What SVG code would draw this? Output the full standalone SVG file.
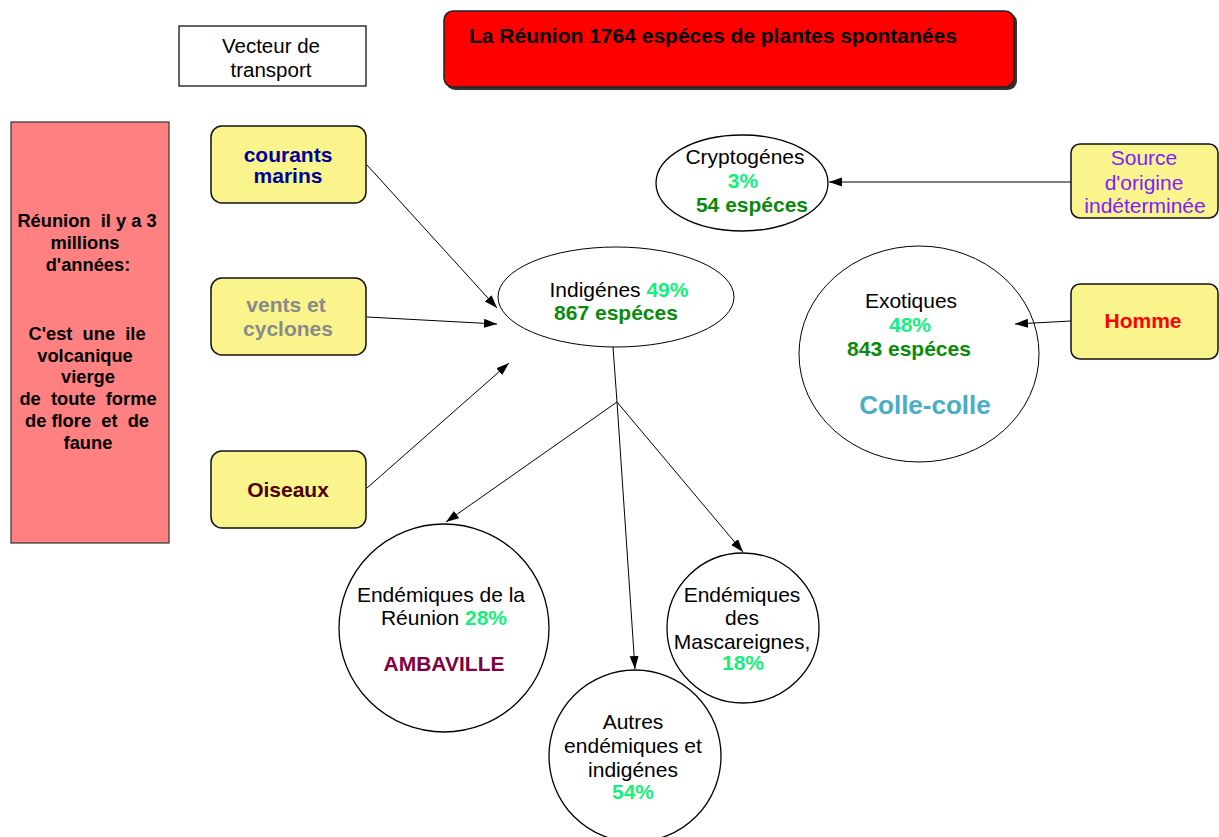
<svg xmlns="http://www.w3.org/2000/svg" width="1219" height="837" viewBox="0 0 1219 837">
<defs>
<marker id="ah" markerUnits="userSpaceOnUse" markerWidth="14" markerHeight="10" refX="13" refY="4.5" orient="auto">
<path d="M0,0 L13,4.5 L0,9 z" fill="#000"/>
</marker>
<style>
text{font-family:"Liberation Sans",Arial,sans-serif;font-size:21px;text-anchor:middle;fill:#000}
.b{font-weight:bold}
.lt{font-weight:bold;font-size:18.3px;white-space:pre}
.ybox{fill:#F9F48C;stroke:#111;stroke-width:1.5}
.node{fill:#fff;stroke:#000;stroke-width:1.3}
.lg{fill:#14F07C}
.dg{fill:#0A8A0A}
.conn line{stroke:#000;stroke-width:1;fill:none}
</style>
</defs>
<rect width="1219" height="837" fill="#fff"/>

<g id="vecteur">
<rect x="179" y="26" width="187" height="60" fill="#fff" stroke="#000" stroke-width="1.2"/>
<text x="271" y="53" style="font-size:20.5px">Vecteur de</text>
<text x="271" y="77" style="font-size:20.5px">transport</text>
</g>

<g id="titre">
<rect x="446" y="13" width="571" height="77" rx="9" fill="#333"/>
<rect x="444" y="11" width="570" height="76" rx="9" fill="#FF0000" stroke="#222" stroke-width="1.5"/>
<text x="469" y="43" class="b" style="text-anchor:start;font-size:21px">La Réunion 1764 espéces de plantes spontanées</text>
</g>

<g id="reunion">
<rect x="11" y="122" width="158" height="421" fill="#FF8080" stroke="#333" stroke-width="1.2"/>
<text x="87" y="227" class="lt" xml:space="preserve">Réunion  il y a 3</text>
<text x="85" y="249" class="lt">millions</text>
<text x="88" y="271" class="lt">d'années:</text>
<text x="87" y="340" class="lt" xml:space="preserve">C'est  une  ile</text>
<text x="85" y="362" class="lt">volcanique</text>
<text x="88" y="383" class="lt">vierge</text>
<text x="88" y="405" class="lt" xml:space="preserve">de  toute  forme</text>
<text x="87" y="427" class="lt" xml:space="preserve">de flore  et  de</text>
<text x="88" y="449" class="lt">faune</text>
</g>

<g id="courants">
<rect class="ybox" x="211" y="126" width="155" height="77" rx="11"/>
<text x="288" y="162" class="b" style="fill:#000099">courants</text>
<text x="288" y="183" class="b" style="fill:#000099">marins</text>
</g>

<g id="vents">
<rect class="ybox" x="211" y="278" width="155" height="77" rx="11"/>
<text x="286" y="312" class="b" style="fill:#8A8A8A">vents et</text>
<text x="288" y="336" class="b" style="fill:#8A8A8A">cyclones</text>
</g>

<g id="oiseaux">
<rect class="ybox" x="211" y="451" width="155" height="77" rx="11"/>
<text x="288" y="497" class="b" style="fill:#4D0000">Oiseaux</text>
</g>

<g id="indigenes">
<ellipse class="node" cx="616" cy="297" rx="118" ry="50" style="stroke-width:1"/>
<text x="619" y="297">Indigénes <tspan class="b lg">49%</tspan></text>
<text x="616" y="320" class="b dg">867 espéces</text>
</g>

<g id="cryptogenes">
<ellipse class="node" cx="742" cy="183" rx="86" ry="48"/>
<text x="745" y="164">Cryptogénes</text>
<text x="743" y="188" class="b lg">3%</text>
<text x="752" y="212" class="b dg">54 espéces</text>
</g>

<g id="source">
<rect class="ybox" x="1071" y="144" width="147" height="74" rx="9"/>
<text x="1144" y="165" style="fill:#8020FF">Source</text>
<text x="1144" y="190" style="fill:#8020FF">d'origine</text>
<text x="1145" y="213" style="fill:#8020FF">indéterminée</text>
</g>

<g id="homme">
<rect class="ybox" x="1071" y="284" width="147" height="75" rx="9"/>
<text x="1143" y="328" class="b" style="fill:#FF0000">Homme</text>
</g>

<g id="exotiques">
<ellipse class="node" cx="919" cy="354" rx="120" ry="108" style="stroke-width:1"/>
<text x="911" y="308">Exotiques</text>
<text x="910" y="332" class="b lg">48%</text>
<text x="909" y="356" class="b dg">843 espéces</text>
<text x="925" y="414" class="b" style="font-size:26px;fill:#4BACC6">Colle-colle</text>
</g>

<g id="endemiques-reunion">
<ellipse class="node" cx="444" cy="628" rx="105" ry="104"/>
<text x="441" y="602">Endémiques de la</text>
<text x="444" y="625">Réunion <tspan class="b lg">28%</tspan></text>
<text x="444" y="671" class="b" style="fill:#800040">AMBAVILLE</text>
</g>

<g id="mascareignes">
<ellipse class="node" cx="743" cy="628" rx="76" ry="75"/>
<text x="742" y="602">Endémiques</text>
<text x="742" y="625">des</text>
<text x="742" y="649">Mascareignes,</text>
<text x="743" y="670" class="b lg">18%</text>
</g>

<g id="autres">
<ellipse class="node" cx="635" cy="756" rx="86" ry="86"/>
<text x="633" y="729">Autres</text>
<text x="633" y="753">endémiques et</text>
<text x="633" y="777">indigénes</text>
<text x="633" y="799" class="b lg">54%</text>
</g>

<g id="connectors" class="conn">
<line x1="367" y1="165" x2="497" y2="308" marker-end="url(#ah)"/>
<line x1="367" y1="317" x2="497" y2="324" marker-end="url(#ah)"/>
<line x1="367" y1="488" x2="509" y2="363" marker-end="url(#ah)"/>
<line x1="613" y1="347" x2="617" y2="402"/>
<line x1="617" y1="402" x2="446" y2="522" marker-end="url(#ah)"/>
<line x1="617" y1="402" x2="635" y2="669" marker-end="url(#ah)"/>
<line x1="617" y1="402" x2="743" y2="552" marker-end="url(#ah)"/>
<line x1="1071" y1="182" x2="829" y2="182" marker-end="url(#ah)"/>
<line x1="1071" y1="321" x2="1015" y2="324" marker-end="url(#ah)"/>
</g>
</svg>
